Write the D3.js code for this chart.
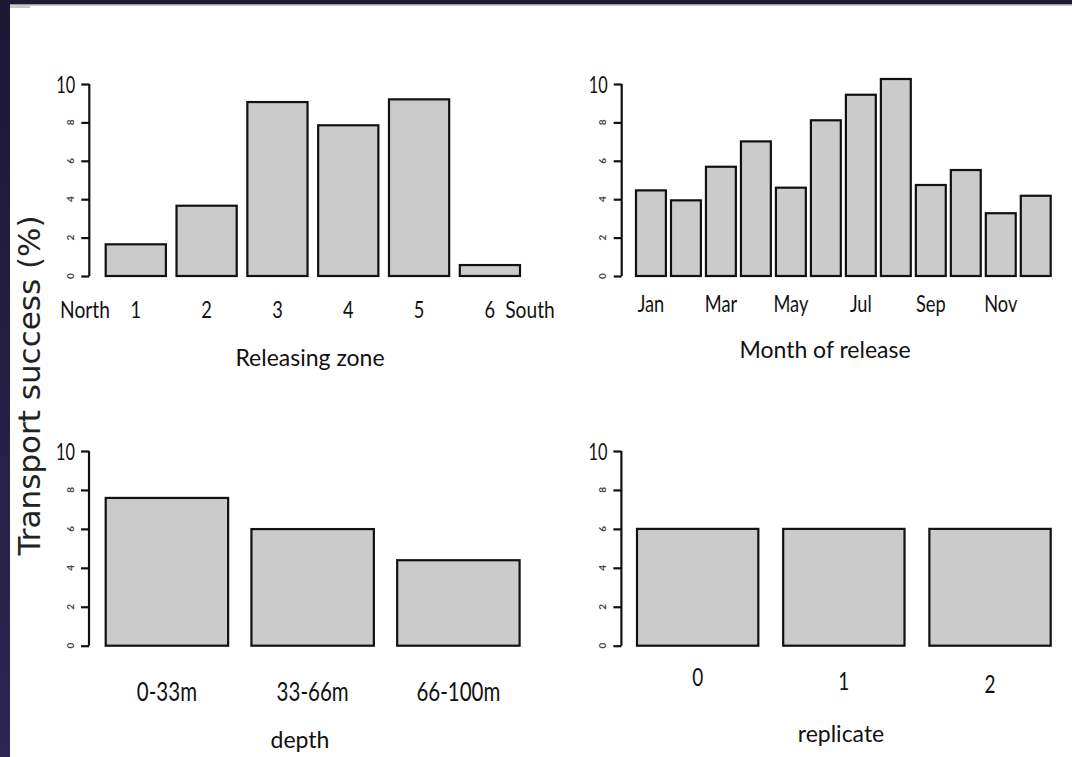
<!DOCTYPE html>
<html>
<head>
<meta charset="utf-8">
<script src="https://cdn.jsdelivr.net/npm/d3@7"></script>
<style>
  html, body { margin: 0; padding: 0; background: #fff; }
  svg { display: block; }
</style>
</head>
<body>
<div id="chart"></div>
<script>
// values (transport success, %)
var zoneLabels = ["1", "2", "3", "4", "5", "6"];
var zoneValues = [1.65, 3.66, 9.06, 7.85, 9.2, 0.57];

var monthLabels = ["Jan", "Feb", "Mar", "Apr", "May", "Jun", "Jul", "Aug", "Sep", "Oct", "Nov", "Dec"];
var monthValues = [4.46, 3.94, 5.69, 7.01, 4.6, 8.11, 9.44, 10.26, 4.74, 5.52, 3.27, 4.18];

var depthLabels = ["0-33m", "33-66m", "66-100m"];
var depthValues = [7.59, 5.99, 4.39];

var replicateLabels = ["0", "1", "2"];
var replicateValues = [6.0, 6.0, 6.0];

var yTicks = [0, 2, 4, 6, 8, 10];

var W = 1072, H = 757;
var rFont = "Lato, 'Open Sans', sans-serif";

var svg = d3.select("#chart").append("svg").attr("width", W).attr("height", H);

// slide frame
var grad = svg.append("defs").append("linearGradient")
    .attr("id", "edge").attr("x1", 0).attr("y1", 0).attr("x2", 0).attr("y2", 1);
grad.append("stop").attr("offset", "0%").attr("stop-color", "#1b1934");
grad.append("stop").attr("offset", "100%").attr("stop-color", "#2b2654");
svg.append("rect").attr("x", 0).attr("y", 0).attr("width", 10).attr("height", H).attr("fill", "url(#edge)");
svg.append("rect").attr("x", 0).attr("y", 0).attr("width", W).attr("height", 4).attr("fill", "#1b1a33");
svg.append("rect").attr("x", 10).attr("y", 4).attr("width", W - 10).attr("height", 1.5).attr("fill", "#9a9a9a");
svg.append("rect").attr("x", 10).attr("y", 5).attr("width", 20).attr("height", 3).attr("fill", "#c8c8c8");

// condensed text, like the narrow font of the original
function narrowText(g, x, y, txt, size, sx, anchor){
    g.append("g")
        .attr("transform", "translate(" + x + "," + y + ") scale(" + sx + ",1)")
      .append("text")
        .attr("text-anchor", anchor || "middle")
        .style("font-family", rFont)
        .style("font-size", size + "px")
        .attr("fill", "#111")
        .text(txt);
}

function panel(p){
    var g = svg.append("g");
    var x = d3.scaleBand().domain(p.labels).range(p.xRange).paddingInner(p.pad).paddingOuter(0);
    var y = d3.scaleLinear().domain([0, 10]).range(p.yRange);

    g.selectAll("rect.bar").data(p.values).enter().append("rect")
        .attr("class", "bar")
        .attr("x", function(d, i){ return x(p.labels[i]); })
        .attr("width", x.bandwidth())
        .attr("y", function(d){ return y(d); })
        .attr("height", function(d){ return y(0) - y(d); })
        .attr("fill", "#cbcbcb")
        .attr("stroke", "#111")
        .attr("stroke-width", 2.2);

    // y axis
    var ax = g.append("g")
        .attr("transform", "translate(" + p.axisX + ",0)")
        .call(d3.axisLeft(y).tickValues(yTicks).tickSize(8).tickFormat(""));
    ax.select(".domain").attr("stroke", "#111").attr("stroke-width", 2.2)
        .attr("d", "M0," + y(10) + "V" + y(0));
    ax.selectAll(".tick line").attr("stroke", "#111").attr("stroke-width", 2.2);

    yTicks.forEach(function(t){
        if (t === 10){
            narrowText(g, p.axisX - 14, y(t) + 9, "10", 24, 0.68, "end");
        } else {
            g.append("text")
                .attr("transform", "translate(" + (p.axisX - 19) + "," + y(t) + ") rotate(-90)")
                .attr("text-anchor", "middle")
                .attr("dy", "0.35em")
                .style("font-family", rFont)
                .style("font-size", "10px")
                .style("font-weight", "bold")
                .attr("fill", "#444")
                .text(t);
        }
    });

    // category labels
    p.labels.forEach(function(d, i){
        if (p.showTick && !p.showTick(i)) return;
        narrowText(g, x(d) + x.bandwidth() / 2, p.labelY + (p.labelShift ? p.labelShift * i : 0), d, p.labelSize, 0.76);
    });

    g.append("text")
        .attr("x", p.titleX).attr("y", p.titleY)
        .attr("text-anchor", "middle")
        .style("font-family", rFont)
        .style("font-size", "23px")
        .attr("fill", "#111")
        .text(p.title);
    return g;
}

var p1 = panel({ labels: zoneLabels, values: zoneValues, xRange: [105.7, 520], yRange: [276, 84],
    axisX: 89.3, pad: 0.15, labelY: 318, labelSize: 24, title: "Releasing zone", titleX: 310, titleY: 366 });
narrowText(p1, 85, 318, "North", 24, 0.8);
narrowText(p1, 530, 318, "South", 24, 0.8);

panel({ labels: monthLabels, values: monthValues, xRange: [636, 1050.7], yRange: [276, 84],
    axisX: 621.7, pad: 0.145, labelY: 311.5, labelSize: 24, title: "Month of release", titleX: 825, titleY: 358,
    showTick: function(i){ return i % 2 === 0; } });

panel({ labels: depthLabels, values: depthValues, xRange: [105.7, 519.6], yRange: [645.7, 451],
    axisX: 89, pad: 0.16, labelY: 701, labelSize: 27, title: "depth", titleX: 300, titleY: 748 });

panel({ labels: replicateLabels, values: replicateValues, xRange: [637, 1050.7], yRange: [645.7, 451],
    axisX: 621.4, pad: 0.17, labelY: 686, labelShift: 3.5, labelSize: 25, title: "replicate", titleX: 841, titleY: 742 });

// shared y title
svg.append("text")
    .attr("transform", "translate(39.5,385.5) rotate(-90)")
    .attr("text-anchor", "middle")
    .style("font-family", "'DejaVu Sans', Verdana, sans-serif")
    .style("font-size", "31px")
    .attr("fill", "#222")
    .text("Transport success (%)");
</script>
</body>
</html>
